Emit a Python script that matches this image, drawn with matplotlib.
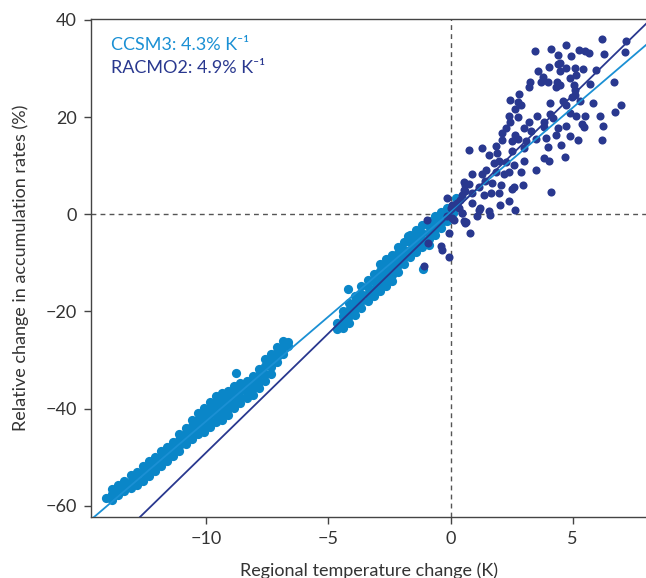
import matplotlib
matplotlib.use("Agg")
import matplotlib.pyplot as plt
import numpy as np

plt.rcParams["font.family"] = ["Lato", "DejaVu Sans"]

LIGHT = "#0a86c8"
DARK = "#29388f"

# CCSM3 points: x position and the y values read at that x
ccsm3_cols = [
    (-14.10, [-58.3]),
    (-13.85, [-58.8, -57.6, -56.5]),
    (-13.60, [-57.8, -56.7, -55.7]),
    (-13.35, [-57.0, -55.9, -54.8]),
    (-13.10, [-56.3, -55.0, -53.7]),
    (-12.85, [-55.8, -54.4, -53.0]),
    (-12.60, [-54.8, -53.3, -51.8]),
    (-12.35, [-53.8, -52.8, -51.8, -50.8]),
    (-12.10, [-52.8, -51.8, -50.9, -50.0]),
    (-11.85, [-51.8, -50.8, -49.8, -48.8]),
    (-11.60, [-50.8, -49.8, -48.8, -47.8]),
    (-11.35, [-49.8, -48.8, -47.8, -46.8]),
    (-11.10, [-48.8, -47.6, -46.4, -45.3]),
    (-10.85, [-47.3, -46.2, -45.1, -44.0]),
    (-10.60, [-46.3, -45.0, -43.6, -42.3]),
    (-10.35, [-45.3, -43.8, -42.3, -40.8]),
    (-10.10, [-44.8, -43.5, -42.2, -41.0, -39.8]),
    (-9.85, [-43.8, -42.5, -41.2, -39.9, -38.6]),
    (-9.60, [-42.8, -41.4, -40.0, -38.6, -37.3]),
    (-9.35, [-42.3, -40.9, -39.5, -38.1, -36.8]),
    (-9.10, [-41.3, -40.0, -38.8, -37.5, -36.3]),
    (-8.85, [-39.8, -38.3, -36.8, -35.3]),
    (-8.79, [-32.6]),
    (-8.60, [-38.8, -37.5, -36.1, -34.8]),
    (-8.35, [-37.8, -36.6, -35.4, -34.3]),
    (-8.10, [-37.1, -35.8, -34.5, -33.3]),
    (-7.85, [-35.8, -34.5, -33.1, -31.8]),
    (-7.60, [-34.3, -32.8, -31.3, -29.8]),
    (-7.35, [-32.8, -31.5, -30.1, -28.8]),
    (-7.10, [-30.3, -29.3, -28.3, -27.3]),
    (-6.85, [-28.8, -27.4, -26.1]),
    (-6.65, [-27.2, -26.2]),
    (-4.65, [-23.7, -22.3]),
    (-4.40, [-23.3, -22.1, -20.9, -19.8]),
    (-4.21, [-15.3]),
    (-4.15, [-22.3, -20.9, -19.6, -18.3]),
    (-3.90, [-20.8, -19.5, -18.1, -16.8]),
    (-3.65, [-19.3, -17.8, -16.3, -14.8]),
    (-3.40, [-17.8, -16.4, -15.0, -13.6]),
    (-3.15, [-16.8, -15.3, -13.8, -12.3]),
    (-2.90, [-15.8, -14.4, -13.0, -11.6, -10.3]),
    (-2.65, [-14.8, -13.4, -12.0, -10.6, -9.3]),
    (-2.40, [-13.8, -12.4, -11.0, -9.6, -8.3]),
    (-2.15, [-11.8, -10.5, -9.3, -8.0, -6.8]),
    (-1.90, [-10.3, -8.8, -7.3, -5.8]),
    (-1.74, [-4.5]),
    (-1.65, [-8.8, -7.3, -5.8, -4.3]),
    (-1.40, [-7.8, -6.3, -4.8, -3.3]),
    (-1.15, [-6.8, -5.3, -3.8, -2.3]),
    (-1.12, [-11.2]),
    (-0.90, [-6.3, -5.0, -3.8, -2.5, -1.3]),
    (-0.65, [-4.3, -3.0, -1.6, -0.3]),
    (-0.40, [-2.8, -1.7, -0.6, 0.5]),
    (-0.15, [-1.3, 0.0, 1.3]),
    (0.10, [0.3, 1.8]),
    (0.22, [3.4]),
]

racmo2_x = [3.47, 4.12, 4.71, 5.26, 5.52, 5.65, 6.21, 6.27, 7.18, 7.12, 4.39, 4.94, 4.48, 4.39, 4.02,
            4.49, 4.74, 5.11, 5.44, 5.94, 3.57, 3.80, 3.26, 3.70, 3.98, 4.37, 4.88, 5.15, 3.22, 4.30,
            4.46, 5.04, 5.11, 5.70, 6.67, 2.81, 2.44, 2.74, 2.89, 2.64, 4.05, 4.60, 4.71, 4.99, 5.10,
            5.29, 5.84, 6.97, 6.75, 2.40, 2.77, 2.42, 3.22, 3.53, 4.05, 3.84, 4.19, 4.88, 5.15, 5.49,
            6.11, 6.25, 2.26, 2.12, 2.64, 2.99, 3.29, 3.84, 4.39, 4.74, 5.36, 5.45, 2.09, 2.53, 2.74,
            3.08, 3.50, 3.91, 4.32, 4.88, 5.22, 6.21, 0.77, 1.29, 1.84, 1.57, 1.91, 2.53, 3.02, 3.98,
            4.53, 1.98, 2.26, 1.78, 2.60, 2.99, 3.84, 4.01, 4.70, 0.88, 1.29, 1.43, 1.84, 2.19, 2.40,
            2.88, 3.50, 0.54, 0.74, 1.16, 1.40, 1.71, 2.05, 2.60, 2.95, 0.61, 0.88, 1.36, 1.64, 1.98,
            2.53, 4.12, 0.40, 0.88, 1.16, 1.57, 2.02, 2.40, 2.64, 1.09, 0.47, 0.00, -0.15, 0.05, 0.26,
            0.61, 0.54, 0.47, -0.15, 0.05, 0.33, 0.47, 0.54, 0.61, 0.12, -0.08, -0.39, -0.36, -0.08,
            -0.91, -1.07, -0.98, 1.19, 1.60, 0.64, 0.78]
racmo2_y = [33.7, 34.0, 34.9, 33.8, 33.7, 33.2, 36.1, 33.0, 35.6, 33.5, 32.8, 32.6, 31.1, 30.9, 30.3,
            29.4, 30.1, 30.1, 30.0, 29.7, 29.4, 28.2, 27.2, 27.2, 27.2, 27.2, 28.1, 28.7, 26.2, 26.3,
            26.7, 26.7, 25.6, 26.8, 27.2, 24.8, 23.6, 23.2, 22.6, 21.7, 22.9, 23.3, 22.4, 24.1, 24.6,
            23.3, 22.9, 22.4, 21.1, 20.2, 20.0, 19.1, 19.1, 20.3, 20.6, 19.1, 19.8, 20.9, 20.2, 20.2,
            20.2, 18.1, 17.8, 16.7, 16.4, 17.8, 17.1, 17.9, 17.8, 18.1, 18.5, 17.9, 15.2, 15.0, 15.6,
            15.0, 15.6, 15.7, 16.4, 16.1, 15.2, 15.2, 13.3, 13.6, 14.0, 12.3, 12.6, 13.0, 13.6, 13.8,
            14.3, 10.9, 10.8, 10.6, 10.2, 10.9, 11.6, 11.0, 11.7, 8.4, 8.2, 9.2, 8.8, 8.2, 8.8,
            8.8, 9.2, 6.65, 6.3, 5.7, 6.8, 6.4, 6.1, 5.7, 6.1, 4.7, 4.4, 4.0, 4.4, 4.4,
            5.3, 4.6, 3.0, 2.3, 0.96, 0.6, 2.0, 2.8, 0.8, -0.4, 0.3, 1.3, -0.4, -0.8, 2.3,
            6.1, 5.1, 4.0, 3.4, 2.0, 1.3, 0.3, -1.4, -1.8, -1.1, -3.8, -6.6, -7.3, -8.8,
            -5.9, -10.7, -1.1, 1.2, -0.1, -1.5, -3.9]

# regression fits (slope % per K, intercept %)
ccsm3_fit = (4.3, 0.45)
racmo2_fit = (4.9, 0.0)
labels = ["CCSM3: 4.3% K\u207b\u00b9", "RACMO2: 4.9% K\u207b\u00b9"]

xlim = (-14.72, 8.0)
ylim = (-62.3, 40.2)

ccsm3_x = [x for x, ys in ccsm3_cols for _ in ys]
ccsm3_y = [y for _, ys in ccsm3_cols for y in ys]

fig = plt.figure(figsize=(6.46, 5.78), dpi=100)
ax = fig.add_axes([91 / 646, 61 / 578, 555 / 646, 498 / 578])

ax.axvline(0, color="#555555", lw=1.0, ls=(0, (3.5, 3)), zorder=1)
ax.axhline(0, color="#555555", lw=1.0, ls=(0, (3.5, 3)), zorder=1)

ax.scatter(ccsm3_x, ccsm3_y, s=44, color=LIGHT, linewidths=0, zorder=2)
ax.scatter(racmo2_x, racmo2_y, s=34, color=DARK, linewidths=0, zorder=3)

xs = np.array(xlim)
ax.plot(xs, ccsm3_fit[0] * xs + ccsm3_fit[1], color="#1b90d4", lw=1.3, zorder=4)
ax.plot(xs, racmo2_fit[0] * xs + racmo2_fit[1], color=DARK, lw=1.3, zorder=4)

ax.text(0.036, 0.948, labels[0], transform=ax.transAxes, color="#1b90d4", fontsize=13, va="center")
ax.text(0.036, 0.902, labels[1], transform=ax.transAxes, color=DARK, fontsize=13, va="center")

ax.set_xlim(xlim)
ax.set_ylim(ylim)
ax.set_xticks([-10, -5, 0, 5])
ax.set_yticks([-60, -40, -20, 0, 20, 40])
ax.set_xticklabels(["\u221210", "\u22125", "0", "5"])
ax.set_yticklabels(["\u221260", "\u221240", "\u221220", "0", "20", "40"])
ax.tick_params(direction="out", length=5, width=1, pad=5, labelsize=13, color="#444444", labelcolor="#333333")
for side in ("left", "bottom", "top"):
    ax.spines[side].set_color("#444444")
    ax.spines[side].set_linewidth(1)
ax.spines["right"].set_visible(False)

ax.set_xlabel("Regional temperature change (K)", fontsize=13, color="#333333", labelpad=11)
ax.set_ylabel("Relative change in accumulation rates (%)", fontsize=13, color="#333333", labelpad=12)

fig.savefig("out.png", dpi=100)
